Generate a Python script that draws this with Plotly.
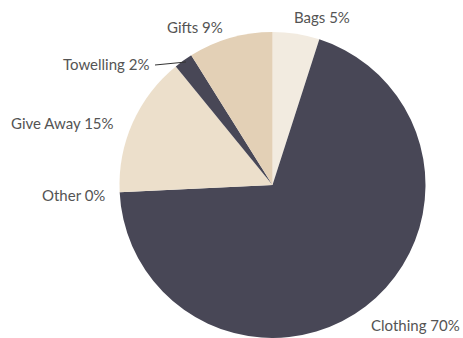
import plotly.graph_objects as go

# Sales share by product category
categories = ["Bags", "Clothing", "Other", "Give Away", "Towelling", "Gifts"]
shares = [5, 70, 0, 15, 2, 9]
colors = ["#f2ebe0", "#484756", "#cfc4b4", "#ecdfcb", "#484756", "#e3d0b6"]

W, H = 463, 338

# label anchor points in pixels (x, y, xanchor)
label_pos = {
    "Bags": (292, 17, "left"),
    "Clothing": (462, 325, "right"),
    "Other": (107, 195, "right"),
    "Give Away": (116, 123, "right"),
    "Towelling": (151, 64, "right"),
    "Gifts": (225, 27, "right"),
}


def px_x(x):
    return x / W


def px_y(y):
    return 1 - y / H


fig = go.Figure(
    go.Pie(
        labels=categories,
        values=shares,
        marker=dict(colors=colors, line=dict(width=0)),
        sort=False,
        direction="clockwise",
        rotation=0,
        textinfo="none",
        hoverinfo="label+percent",
        showlegend=False,
        domain=dict(x=[px_x(119), px_x(426)], y=[0, px_y(32)]),
    )
)

annotations = []
for name, val in zip(categories, shares):
    x, y, anchor = label_pos[name]
    annotations.append(
        dict(
            text=f"{name} {val}%",
            x=px_x(x),
            y=px_y(y),
            xref="paper",
            yref="paper",
            xanchor=anchor,
            yanchor="middle",
            showarrow=False,
            font=dict(family="Lato", size=15, color="#545454"),
        )
    )

fig.update_layout(
    width=W,
    height=H,
    margin=dict(l=0, r=0, t=0, b=0),
    paper_bgcolor="white",
    plot_bgcolor="white",
    annotations=annotations,
    shapes=[
        dict(
            type="line",
            xref="paper",
            yref="paper",
            x0=px_x(155),
            y0=px_y(65),
            x1=px_x(186),
            y1=px_y(62),
            line=dict(color="#333333", width=1),
        )
    ],
)

fig.write_html("out.html")
